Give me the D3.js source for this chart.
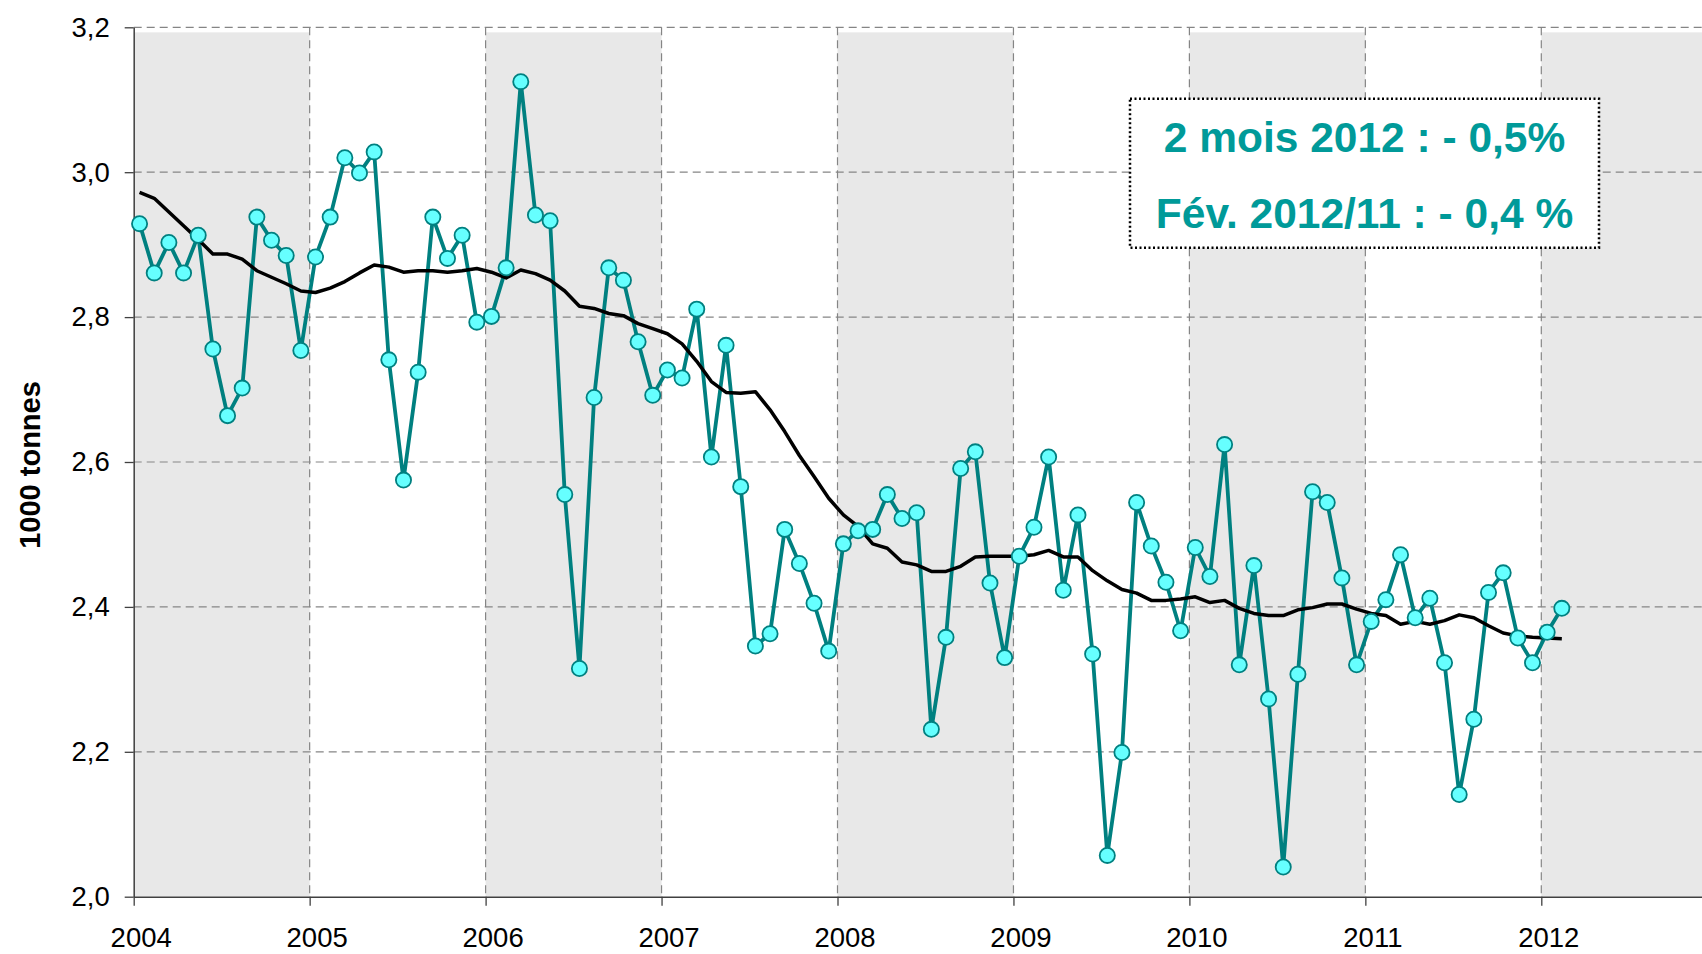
<!DOCTYPE html>
<html>
<head>
<meta charset="utf-8">
<script src="https://cdn.jsdelivr.net/npm/d3@7"></script>
<style>
  body { margin: 0; background: #fff; }
  svg { display: block; overflow: hidden; }
  text { font-family: "Liberation Sans", Arial, sans-serif; }
</style>
</head>
<body>
<div id="graph1"></div>
<script>
// data (1000 tonnes, monthly from jan 2004)
const START_YEAR = 2004;
const YEARS = [2004, 2005, 2006, 2007, 2008, 2009, 2010, 2011, 2012];
const Y_TICKS = [2.0, 2.2, 2.4, 2.6, 2.8, 3.0, 3.2];

const MONTHLY = [
  2.929, 2.861, 2.903, 2.861, 2.913, 2.756, 2.664, 2.702, 2.938, 2.906, 2.885, 2.754,
  2.883, 2.938, 3.020, 2.999, 3.028, 2.741, 2.575, 2.724, 2.938, 2.881, 2.913, 2.793,
  2.801, 2.868, 3.125, 2.941, 2.933, 2.555, 2.315, 2.689, 2.868, 2.851, 2.766, 2.692,
  2.727, 2.716, 2.811, 2.607, 2.761, 2.566, 2.346, 2.363, 2.507, 2.460, 2.405, 2.339,
  2.487, 2.505, 2.507, 2.555, 2.522, 2.530, 2.231, 2.358, 2.591, 2.614, 2.433, 2.330,
  2.470, 2.510, 2.607, 2.423, 2.527, 2.335, 2.057, 2.199, 2.544, 2.484, 2.434, 2.367,
  2.482, 2.442, 2.624, 2.320, 2.457, 2.273, 2.041, 2.307, 2.559, 2.544, 2.440, 2.320,
  2.380, 2.410, 2.472, 2.385, 2.412, 2.323, 2.141, 2.245, 2.420, 2.447, 2.357, 2.323,
  2.365, 2.398
];

// 12 month moving average (black line)
const MOVING_AVG = [
  2.972, 2.964, 2.945, 2.926, 2.907, 2.887, 2.887, 2.880, 2.864, 2.855, 2.846, 2.836,
  2.834, 2.840, 2.849, 2.861, 2.872, 2.869, 2.862, 2.864, 2.864, 2.862, 2.864, 2.867,
  2.862, 2.854, 2.865, 2.860, 2.851, 2.836, 2.815, 2.812, 2.805, 2.802, 2.791, 2.784,
  2.777, 2.763, 2.739, 2.711, 2.696, 2.695, 2.697, 2.672, 2.642, 2.609, 2.580, 2.550,
  2.527, 2.511, 2.487, 2.481, 2.462, 2.458, 2.449, 2.449, 2.456, 2.469, 2.470, 2.470,
  2.470, 2.472, 2.478, 2.469, 2.469, 2.450, 2.436, 2.424, 2.419, 2.409, 2.409, 2.411,
  2.414, 2.406, 2.409, 2.398, 2.391, 2.388, 2.388, 2.396, 2.399, 2.404, 2.404, 2.397,
  2.391, 2.388, 2.376, 2.380, 2.376, 2.381, 2.389, 2.385, 2.374, 2.364, 2.360, 2.358,
  2.357, 2.356
];

const BOX_LINES = ["2 mois 2012 : - 0,5%", "Fév. 2012/11 : - 0,4 %"];

// frame
const FRAME_HEIGHT = 954;
const FRAME_WIDTH = 1702;
const MARGINS = {left: 133.7, top: 27.3, bottom: 57.3};
const VIS_HEIGHT = FRAME_HEIGHT - MARGINS.top - MARGINS.bottom;
const YEAR_WIDTH = 175.95;
const VIS_WIDTH = YEAR_WIDTH * YEARS.length; // runs past the right edge like the original

const FRAME1 = d3.select("#graph1")
  .append("svg")
    .attr("width", FRAME_WIDTH)
    .attr("height", FRAME_HEIGHT);

const X_SCALE = d3.scaleLinear()
  .domain([START_YEAR, START_YEAR + YEARS.length])
  .range([0, VIS_WIDTH]);

const Y_SCALE = d3.scaleLinear()
  .domain([2.0, 3.2])
  .range([VIS_HEIGHT, 0]);

// points sit a bit inside each month
const monthPos = i => START_YEAR + (i + 0.4) / 12;

const plot = FRAME1.append("g")
  .attr("transform", "translate(" + MARGINS.left + "," + MARGINS.top + ")");

// alternating grey year bands
plot.selectAll(".band")
  .data(YEARS.filter((y, i) => i % 2 === 0))
  .enter().append("rect")
    .attr("x", d => X_SCALE(d))
    .attr("width", d => X_SCALE(d + 1) - X_SCALE(d))
    .attr("y", Y_SCALE(3.193))
    .attr("height", Y_SCALE(2.0) - Y_SCALE(3.193))
    .attr("fill", "#e8e8e8");

// dashed grid
plot.selectAll(".hgrid")
  .data(Y_TICKS.slice(1))
  .enter().append("line")
    .attr("x1", 0)
    .attr("x2", VIS_WIDTH)
    .attr("y1", d => Y_SCALE(d))
    .attr("y2", d => Y_SCALE(d))
    .attr("stroke", "#858585")
    .attr("stroke-width", 1.2)
    .attr("stroke-dasharray", "8,5");

plot.selectAll(".vgrid")
  .data(YEARS.slice(1).concat([START_YEAR + YEARS.length]))
  .enter().append("line")
    .attr("x1", d => X_SCALE(d))
    .attr("x2", d => X_SCALE(d))
    .attr("y1", Y_SCALE(3.2))
    .attr("y2", Y_SCALE(2.0))
    .attr("stroke", "#858585")
    .attr("stroke-width", 1.2)
    .attr("stroke-dasharray", "8,5");

// axes
const commaFmt = d => d3.format(".1f")(d).replace(".", ",");

const yAxis = plot.append("g")
  .call(d3.axisLeft(Y_SCALE).tickValues(Y_TICKS).tickFormat(commaFmt)
    .tickSize(9).tickSizeOuter(0).tickPadding(15));

const xAxis = plot.append("g")
  .attr("transform", "translate(0," + VIS_HEIGHT + ")")
  .call(d3.axisBottom(X_SCALE).tickValues(YEARS).tickFormat(d3.format("d"))
    .tickSize(9).tickSizeOuter(0).tickPadding(22));

[yAxis, xAxis].forEach(ax => {
  ax.select(".domain").attr("stroke", "#404040").attr("stroke-width", 1.5);
  ax.selectAll(".tick line").attr("stroke", "#404040").attr("stroke-width", 1.3);
  ax.selectAll("text")
    .attr("font-size", "27.5px")
    .attr("font-family", "'Liberation Sans', Arial, sans-serif")
    .attr("fill", "#000");
});
// year labels sit slightly right of their ticks in the original
xAxis.selectAll(".tick text").attr("dx", 7);

// series lines
const line = d3.line()
  .x((d, i) => X_SCALE(monthPos(i)))
  .y(d => Y_SCALE(d));

plot.append("path")
  .datum(MONTHLY)
  .attr("d", line)
  .attr("fill", "none")
  .attr("stroke", "#008080")
  .attr("stroke-width", 3.8)
  .attr("stroke-linejoin", "round");

plot.append("path")
  .datum(MOVING_AVG)
  .attr("d", line)
  .attr("fill", "none")
  .attr("stroke", "#000")
  .attr("stroke-width", 3.5)
  .attr("stroke-linejoin", "round");

plot.selectAll(".dot")
  .data(MONTHLY)
  .enter().append("circle")
    .attr("cx", (d, i) => X_SCALE(monthPos(i)))
    .attr("cy", d => Y_SCALE(d))
    .attr("r", 7.6)
    .attr("fill", "#66ffff")
    .attr("stroke", "#008080")
    .attr("stroke-width", 1.8);

// y axis title
FRAME1.append("text")
  .attr("transform", "translate(39.5,465) rotate(-90)")
  .attr("text-anchor", "middle")
  .attr("font-size", "29px")
  .attr("font-weight", "bold")
  .text("1000 tonnes");

// annotation box
const box = FRAME1.append("g");
box.append("rect")
  .attr("x", 1130)
  .attr("y", 98.7)
  .attr("width", 469)
  .attr("height", 149)
  .attr("fill", "#fff")
  .attr("stroke", "#000")
  .attr("stroke-width", 2.5)
  .attr("stroke-dasharray", "2,2.5");

box.selectAll(".boxtxt")
  .data(BOX_LINES)
  .enter().append("text")
    .attr("x", 1364.5)
    .attr("y", (d, i) => 151.7 + i * 76)
    .attr("text-anchor", "middle")
    .attr("font-size", "42.5px")
    .attr("font-weight", "bold")
    .attr("fill", "#009a99")
    .text(d => d);
</script>
</body>
</html>
